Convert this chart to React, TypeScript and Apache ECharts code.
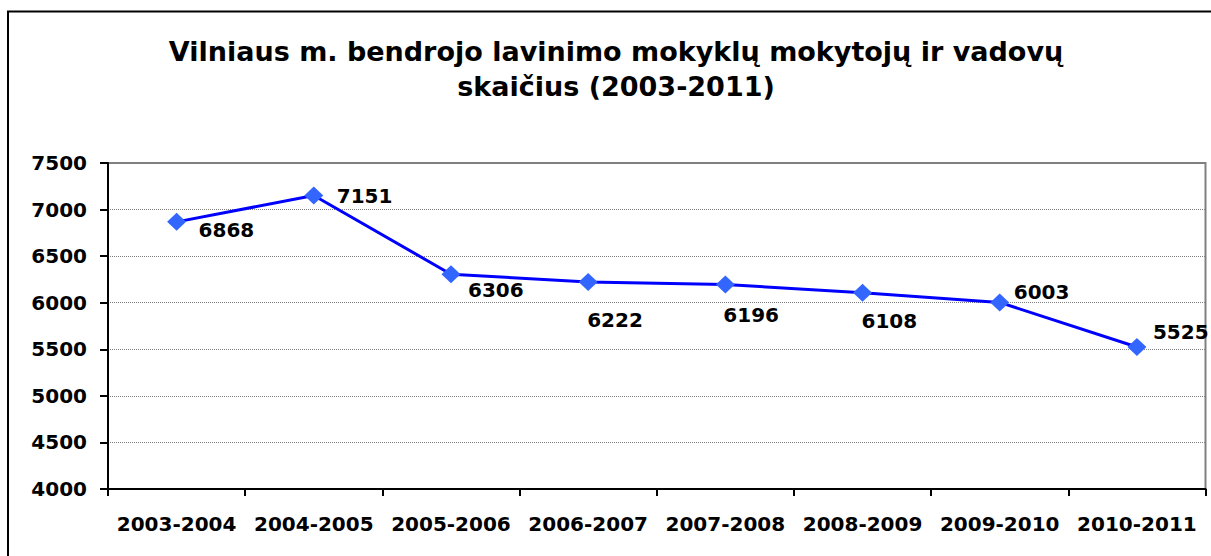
import React, { useEffect, useRef } from "react";
import * as echarts from "echarts";

const titleLines = [
  "Vilniaus m. bendrojo lavinimo mokyklų mokytojų ir vadovų",
  "skaičius (2003-2011)",
];
const categories = [
  "2003-2004",
  "2004-2005",
  "2005-2006",
  "2006-2007",
  "2007-2008",
  "2008-2009",
  "2009-2010",
  "2010-2011",
];
const values = [6868, 7151, 6306, 6222, 6196, 6108, 6003, 5525];
const yMin = 4000;
const yMax = 7500;
const yInterval = 500;

// label placement (style): offset of label's left edge / vertical centre from the point
const labelOffsets: [number, number][] = [
  [22, 8],
  [23, 0],
  [17, 16],
  [-1, 38],
  [-2, 31],
  [-1, 28],
  [14, -10],
  [16, -15],
];

const FONT = "DejaVu Sans";

export default function App() {
  const ref = useRef<HTMLDivElement>(null);
  useEffect(() => {
    if (!ref.current) return;
    const chart = echarts.init(ref.current, null, { renderer: "svg" });
    chart.setOption({
      animation: false,
      backgroundColor: "#ffffff",
      title: {
        text: titleLines.join("\n"),
        left: 616,
        top: 34,
        padding: 0,
        textAlign: "center",
        textStyle: {
          fontFamily: FONT,
          fontWeight: "bold",
          fontSize: 27,
          lineHeight: 35,
          color: "#000000",
        },
      },
      graphic: [
        {
          type: "rect",
          shape: { x: 8, y: 11.5, width: 1400, height: 800 },
          style: { fill: "none", stroke: "#000000", lineWidth: 2 },
          silent: true,
        },
      ],
      grid: {
        left: 108,
        top: 163,
        right: 5.5,
        bottom: 67,
        show: true,
        borderColor: "#808080",
        borderWidth: 2,
        backgroundColor: "transparent",
      },
      xAxis: {
        type: "category",
        data: categories,
        boundaryGap: true,
        axisLine: { lineStyle: { color: "#000000", width: 2 } },
        axisTick: { show: true, length: 7, lineStyle: { color: "#000000", width: 2 } },
        axisLabel: {
          margin: 25,
          fontFamily: FONT,
          fontWeight: "bold",
          fontSize: 20,
          color: "#000000",
          interval: 0,
        },
        splitLine: { show: false },
      },
      yAxis: {
        type: "value",
        min: yMin,
        max: yMax,
        interval: yInterval,
        axisLine: { show: true, lineStyle: { color: "#000000", width: 2 } },
        axisTick: { show: true, length: 8, lineStyle: { color: "#000000", width: 2 } },
        axisLabel: {
          margin: 21,
          fontFamily: FONT,
          fontWeight: "bold",
          fontSize: 20,
          color: "#000000",
          formatter: (v: number) => String(v),
        },
        splitLine: {
          show: true,
          lineStyle: { color: "#808080", width: 1, type: "dotted" },
        },
      },
      series: [
        {
          type: "line",
          data: values.map((v, i) => ({
            value: v,
            label: {
              offset: labelOffsets[i],
            },
          })),
          symbol: "diamond",
          symbolSize: [19, 18],
          lineStyle: { color: "#0000ff", width: 3 },
          itemStyle: { color: "#3366ff" },
          label: {
            show: true,
            position: "inside",
            align: "left",
            verticalAlign: "middle",
            formatter: "{c}",
            fontFamily: FONT,
            fontWeight: "bold",
            fontSize: 20,
            color: "#000000",
          },
          z: 3,
        },
      ],
    });
    return () => chart.dispose();
  }, []);
  return (
    <div
      ref={ref}
      style={{
        position: "fixed",
        left: 0,
        top: 0,
        width: "1211px",
        height: "556px",
        background: "#ffffff",
      }}
    />
  );
}
